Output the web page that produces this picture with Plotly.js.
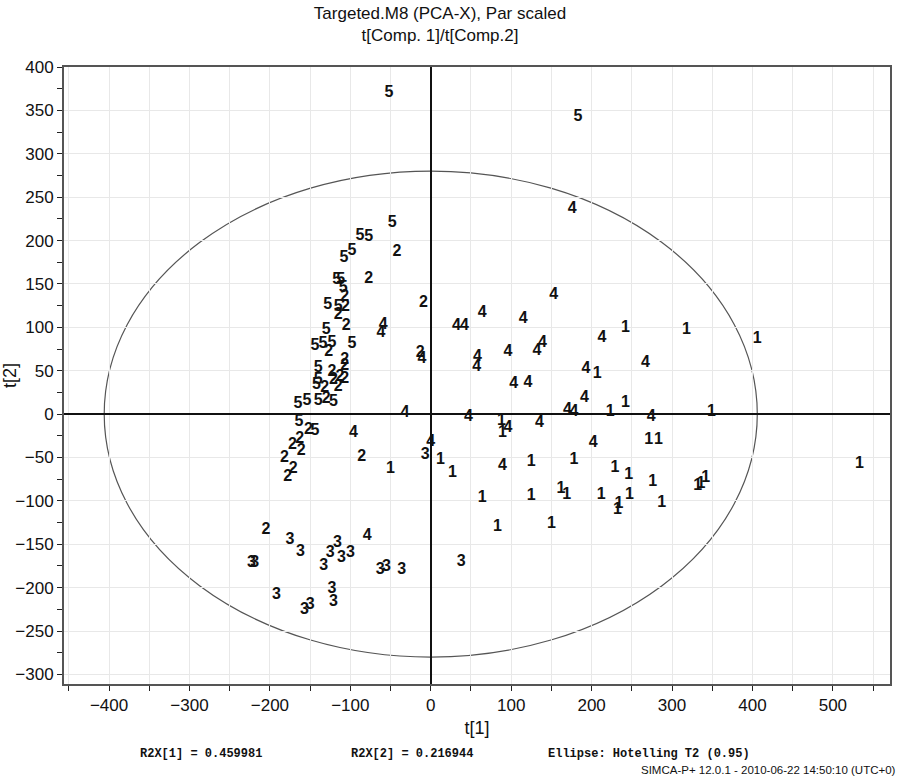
<!DOCTYPE html>
<html>
<head>
<meta charset="utf-8">
<script src="https://cdn.plot.ly/plotly-3.0.1.min.js"></script>
<style>body{margin:0;background:#fff}#chart{width:901px;height:780px}</style>
</head>
<body>
<div id="chart"></div>
<script>
// ---- data (t[1], t[2]) per class ----
const class1_x = [88, 89, 12, 27, -50, 64, 83, 125, 178, 271, 283, 229, 246, 276, 125, 162, 169, 212, 247, 287, 234, 232, 150, 242, 207, 223, 242, 318, 406, 349, 332, 336, 342, 533];
const class1_y = [-8, -22, -53, -68, -63, -97, -130, -55, -53, -30, -30, -62, -70, -78, -94, -86, -93, -93, -93, -102, -103, -110, -127, 99, 46, 3, 13, 97, 86, 2, -83, -81, -74, -58];

const class2_x = [-9, -13, -42, -77, -86, -205, -107, -106, -115, -105, -127, -107, -107, -123, -113, -121, -107, -132, -115, -130, -152, -163, -172, -182, -161, -171, -178];
const class2_y = [128, 70, 187, 156, -49, -133, 135, 124, 114, 101, 72, 62, 56, 49, 43, 39, 41, 30, 31, 17, -18, -29, -36, -50, -43, -63, -73];

const class3_x = [-7, -219, -223, -175, -162, -116, -125, -111, -100, -133, -63, -55, -36, 38, -192, -157, -150, -123, -121];
const class3_y = [-47, -172, -172, -145, -159, -148, -160, -166, -160, -175, -180, -176, -180, -170, -208, -226, -220, -202, -216];

const class4_x = [176, -59, -62, -11, -32, -96, 0, 47, 153, 64, 32, 42, 115, 58, 57, 96, 132, 139, 213, 193, 267, 103, 121, 191, 170, 178, 274, 96, 135, 89, 202, -79];
const class4_y = [236, 103, 94, 64, 1, -22, -32, -3, 137, 116, 102, 101, 110, 66, 54, 72, 73, 82, 88, 52, 59, 35, 36, 19, 5, 3, -3, -16, -10, -60, -33, -141];

const class5_x = [-52, 183, -48, -88, -77, -98, -108, -117, -112, -109, -128, -115, -130, -98, -144, -134, -123, -140, -140, -142, -165, -154, -140, -121, -164, -144];
const class5_y = [370, 342, 220, 205, 204, 188, 180, 155, 154, 145, 126, 124, 97, 81, 78, 81, 82, 53, 39, 33, 12, 15, 15, 14, -9, -20];

const classNames = ['1', '2', '3', '4', '5'];
const xRange = [-456, 571];
const yRange = [-311, 400];
const ellipseA = 406;   // Hotelling T2 (0.95) semi-axis along t[1]
const ellipseB = 280;   // semi-axis along t[2]
const r2x1 = 'R2X[1] = 0.459981';
const r2x2 = 'R2X[2] = 0.216944';
const ellipseNote = 'Ellipse: Hotelling T2 (0.95)';
const footer = 'SIMCA-P+ 12.0.1 - 2010-06-22 14:50:10 (UTC+0)';

const xs = [class1_x, class2_x, class3_x, class4_x, class5_x];
const ys = [class1_y, class2_y, class3_y, class4_y, class5_y];

const traces = classNames.map((name, i) => ({
  type: 'scatter',
  mode: 'text',
  x: xs[i],
  y: ys[i],
  text: xs[i].map(() => name),
  textposition: 'middle center',
  textfont: {family: 'Liberation Sans, Arial, sans-serif', size: 16, color: '#111', weight: 'bold'},
  hoverinfo: 'x+y',
  showlegend: false,
  cliponaxis: false
}));

const tickFont = {family: 'Liberation Sans, Arial, sans-serif', size: 17, color: '#111'};
const monoFont = {family: 'Liberation Mono, DejaVu Sans Mono, monospace', size: 12, color: '#111', weight: 'bold'};

const layout = {
  width: 901,
  height: 780,
  paper_bgcolor: '#fff',
  plot_bgcolor: '#fff',
  margin: {l: 64, r: 11, t: 67, b: 96},
  showlegend: false,
  title: {
    text: 'Targeted.M8 (PCA-X), Par scaled<br>t[Comp. 1]/t[Comp.2]',
    font: {family: 'Liberation Sans, Arial, sans-serif', size: 17, color: '#111'},
    x: 440 / 901, xref: 'container', xanchor: 'center',
    y: 1 - 19 / 780, yref: 'container', yanchor: 'top'
  },
  xaxis: {
    range: xRange,
    tickmode: 'linear', tick0: 0, dtick: 100,
    ticks: 'outside', ticklen: 5, tickwidth: 1, tickcolor: '#222',
    showgrid: true, gridcolor: '#e8e8e8', gridwidth: 1,
    minor: {dtick: 50, ticks: 'outside', ticklen: 5, tickcolor: '#222', showgrid: true, gridcolor: '#e8e8e8'},
    zeroline: true, zerolinecolor: '#111', zerolinewidth: 1.5,
    showline: true, mirror: true, linecolor: '#555', linewidth: 2,
    tickfont: tickFont,
    title: {text: 't[1]', font: {family: 'Liberation Sans, Arial, sans-serif', size: 18, color: '#111'}, standoff: 7}
  },
  yaxis: {
    range: yRange,
    tickmode: 'linear', tick0: 0, dtick: 50,
    ticks: 'outside', ticklen: 5, tickwidth: 1, tickcolor: '#222',
    showgrid: true, gridcolor: '#e8e8e8', gridwidth: 1,
    minor: {dtick: 25, ticks: 'outside', ticklen: 5, tickcolor: '#222', showgrid: false},
    zeroline: true, zerolinecolor: '#111', zerolinewidth: 1.5,
    showline: true, mirror: true, linecolor: '#555', linewidth: 2,
    tickfont: tickFont,
    title: {text: 't[2]', font: {family: 'Liberation Sans, Arial, sans-serif', size: 18, color: '#111'}, standoff: 0}
  },
  shapes: [{
    type: 'circle', xref: 'x', yref: 'y',
    x0: -ellipseA, x1: ellipseA, y0: -ellipseB, y1: ellipseB,
    line: {color: '#555', width: 1.2}, layer: 'below'
  }],
  annotations: [
    {text: r2x1, xref: 'paper', yref: 'paper', x: (201 - 64) / 826, y: (684 - 754) / 617, showarrow: false, xanchor: 'center', yanchor: 'middle', font: monoFont},
    {text: r2x2, xref: 'paper', yref: 'paper', x: (412 - 64) / 826, y: (684 - 754) / 617, showarrow: false, xanchor: 'center', yanchor: 'middle', font: monoFont},
    {text: ellipseNote, xref: 'paper', yref: 'paper', x: (649 - 64) / 826, y: (684 - 754) / 617, showarrow: false, xanchor: 'center', yanchor: 'middle', font: monoFont},
    {text: footer, xref: 'paper', yref: 'paper', x: (898 - 64) / 826, y: (684 - 770) / 617, showarrow: false, xanchor: 'right', yanchor: 'middle',
     font: {family: 'Liberation Sans Narrow, Liberation Sans, Arial, sans-serif', size: 11.5, color: '#111'}}
  ]
};

Plotly.newPlot('chart', traces, layout, {staticPlot: true, displayModeBar: false});
</script>
</body>
</html>
